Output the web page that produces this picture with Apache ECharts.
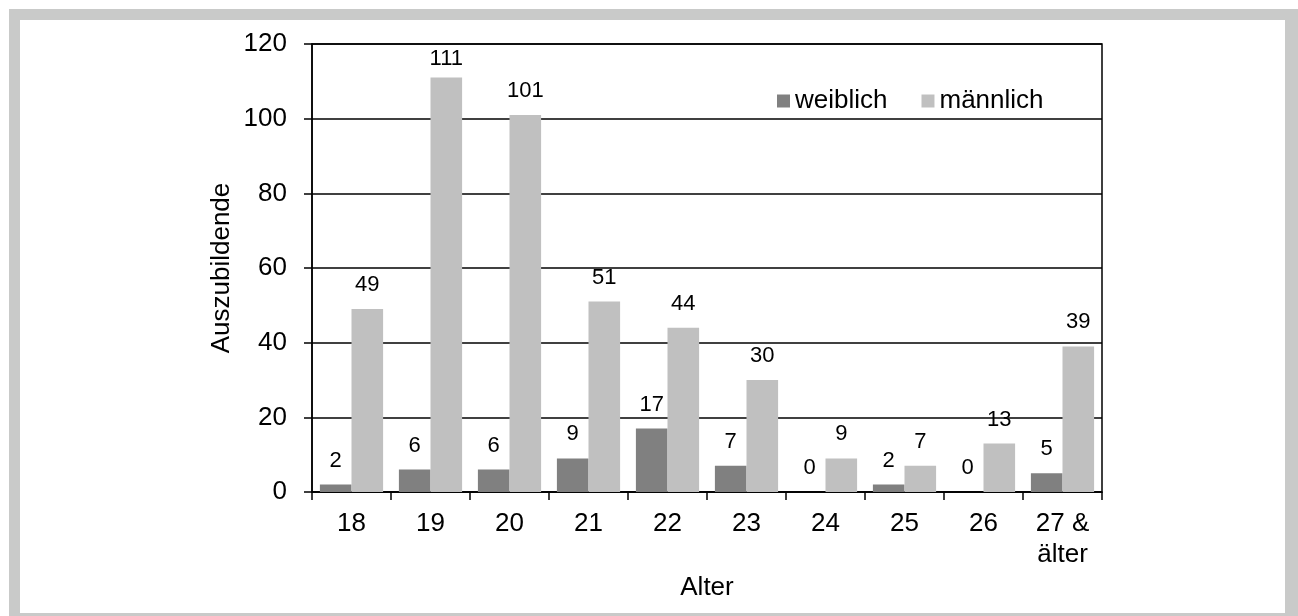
<!DOCTYPE html>
<html>
<head>
<meta charset="utf-8">
<script src="https://cdn.jsdelivr.net/npm/echarts@6/dist/echarts.min.js"></script>
<style>
html,body{margin:0;padding:0;background:#fff;width:1298px;height:616px;overflow:hidden;}
#frame{position:absolute;left:9px;top:9px;width:1289px;height:607px;background:#c9cac9;}
#inner{position:absolute;left:20px;top:20px;width:1265px;height:593px;background:#fff;}
#chart{position:absolute;left:0;top:0;width:1298px;height:616px;}
</style>
</head>
<body>
<div id="frame"></div>
<div id="inner"></div>
<div id="chart"></div>
<script>
const categories = ['18','19','20','21','22','23','24','25','26','27 &\nälter'];
const weiblich = [2,6,6,9,17,7,0,2,0,5];
const maennlich = [49,111,101,51,44,30,9,7,13,39];
const seriesNames = ['weiblich','männlich'];
const xAxisName = 'Alter';
const yAxisName = 'Auszubildende';

const FONT = '"Liberation Sans", Arial, sans-serif';
const chart = echarts.init(document.getElementById('chart'), null, {renderer:'canvas'});
const labelStyle = {show:true, position:'top', distance:13, fontSize:22, color:'#000', fontFamily:FONT};
// labels of bars reaching near the plot top are pulled closer to the bar (as in the original)
const withLabels = arr => arr.map(v => v > 108 ? {value:v, label:{distance:8}} : v);
chart.setOption({
  backgroundColor:'transparent',
  animation:false,
  textStyle:{fontFamily:FONT, color:'#000'},
  grid:{left:312, right:196, top:44, height:448, show:true, borderColor:'#000', borderWidth:1.5, backgroundColor:'transparent'},
  legend:{
    left:772, top:83, itemWidth:13, itemHeight:13, itemGap:34,
    textStyle:{fontSize:26, color:'#000', fontFamily:FONT},
    data:[{name:seriesNames[0], icon:'rect'},{name:seriesNames[1], icon:'rect'}]
  },
  xAxis:{
    type:'category', data:categories,
    name:xAxisName, nameLocation:'middle', nameGap:80,
    nameTextStyle:{fontSize:26, color:'#000', fontFamily:FONT},
    axisLine:{lineStyle:{color:'#000', width:1.5}},
    axisTick:{show:true, length:8, lineStyle:{color:'#000', width:1.5}},
    axisLabel:{fontSize:26, color:'#000', margin:16, lineHeight:31, fontFamily:FONT, interval:0}
  },
  yAxis:{
    type:'value', min:0, max:120, interval:20,
    name:yAxisName, nameLocation:'middle', nameGap:77, nameRotate:90, nameMoveOverlap:false,
    nameTextStyle:{fontSize:26, color:'#000', fontFamily:FONT},
    axisLine:{show:true, lineStyle:{color:'#000', width:1.5}},
    axisTick:{show:true, length:8, lineStyle:{color:'#000', width:1.5}},
    axisLabel:{fontSize:26, color:'#000', margin:25, fontFamily:FONT},
    splitLine:{show:true, lineStyle:{color:'#000', width:1.5}}
  },
  series:[
    {name:seriesNames[0], type:'bar', data:withLabels(weiblich), barGap:'0%', barCategoryGap:'20%',
     itemStyle:{color:'#808080'}, label:labelStyle},
    {name:seriesNames[1], type:'bar', data:withLabels(maennlich), barGap:'0%', barCategoryGap:'20%',
     itemStyle:{color:'#c0c0c0'}, label:labelStyle}
  ]
});
</script>
</body>
</html>
